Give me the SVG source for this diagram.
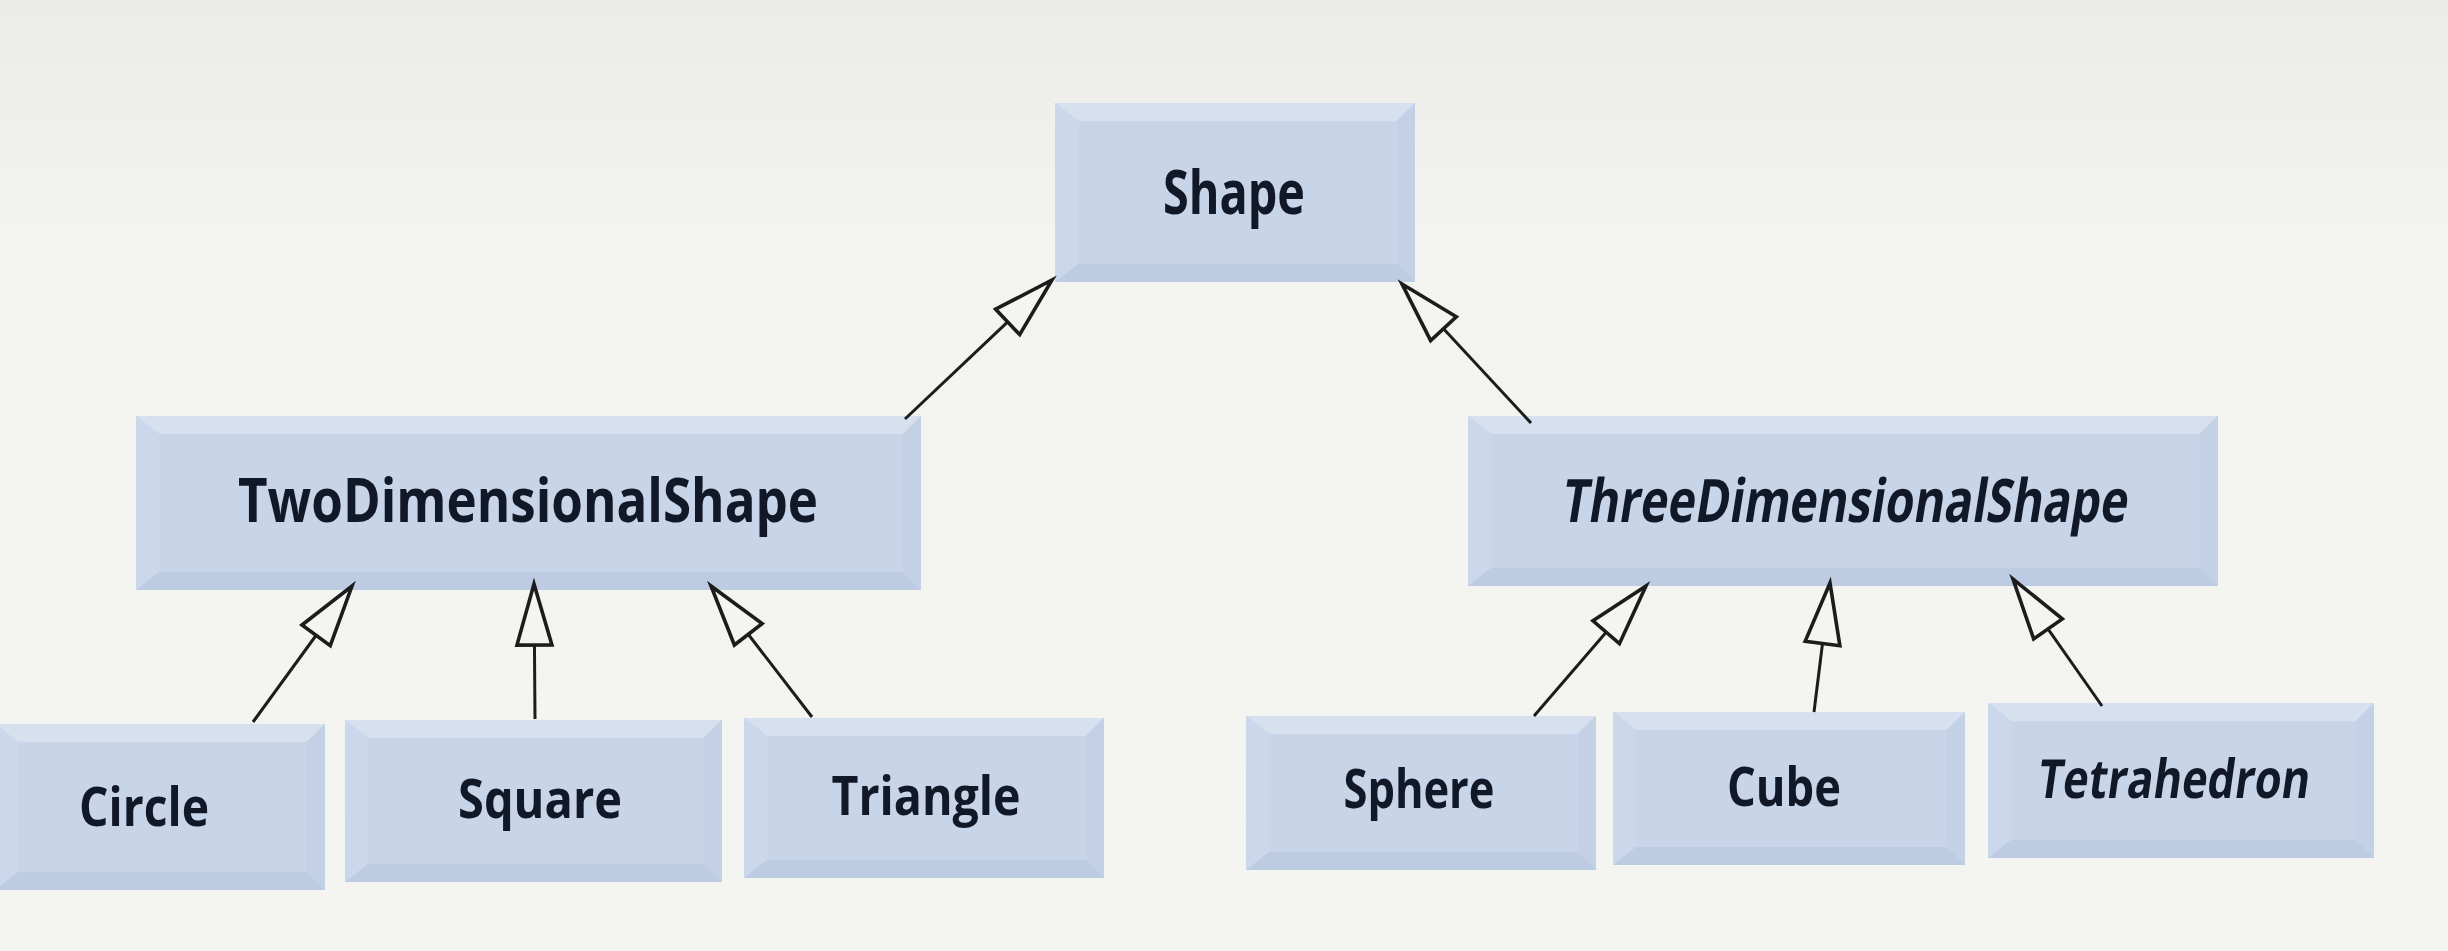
<svg xmlns="http://www.w3.org/2000/svg" width="2448" height="951" viewBox="0 0 2448 951">
  <defs>
    <linearGradient id="bg" x1="0" y1="0" x2="0" y2="1">
      <stop offset="0" stop-color="#ebebe8"/>
      <stop offset="0.25" stop-color="#f3f3f0"/>
      <stop offset="1" stop-color="#f4f4f1"/>
    </linearGradient>
    <marker id="gen" markerUnits="userSpaceOnUse" markerWidth="72" markerHeight="44" refX="64" refY="22" orient="auto" overflow="visible">
      <path d="M3,4.5 L64,22 L3,39.5 Z" fill="#f4f4f1" stroke="#1c1c1c" stroke-width="3.6" stroke-linejoin="miter"/>
    </marker>
    <style>
      .outer { fill: #bdcce3; }
      .topb { fill: #d6e0ee; }
      .leftb { fill: #cbd7ea; }
      .rightb { fill: #c3d0e6; }
      .inner { fill: #c8d5e9; }
      .lbl { font-family: "Open Sans", "Noto Sans", "Liberation Sans", sans-serif; font-weight: bold; fill: #111828; text-anchor: middle; }
      .conn { stroke: #1c1c1c; stroke-width: 3; fill: none; marker-end: url(#gen); }
    </style>
  </defs>

  <rect x="0" y="0" width="2448" height="951" fill="url(#bg)"/>

  <g id="node-shape">
    <rect class="outer" x="1055" y="103" width="360" height="179"/>
    <polygon class="topb" points="1055,103 1415,103 1397,121 1078,121"/>
    <polygon class="leftb" points="1055,103 1078,121 1078,264 1055,282"/>
    <polygon class="rightb" points="1415,103 1397,121 1397,264 1415,282"/>
    <rect class="inner" x="1078" y="121" width="319" height="143"/>
    <text class="lbl" x="1234" y="214" font-size="60" textLength="142" lengthAdjust="spacingAndGlyphs">Shape</text>
  </g>

  <g id="node-two">
    <rect class="outer" x="136" y="416" width="785" height="174"/>
    <polygon class="topb" points="136,416 921,416 903,434 159,434"/>
    <polygon class="leftb" points="136,416 159,434 159,572 136,590"/>
    <polygon class="rightb" points="921,416 903,434 903,572 921,590"/>
    <rect class="inner" x="159" y="434" width="744" height="138"/>
    <text class="lbl" x="528" y="522" font-size="60" textLength="580" lengthAdjust="spacingAndGlyphs">TwoDimensionalShape</text>
  </g>

  <g id="node-three">
    <rect class="outer" x="1468" y="416" width="750" height="170"/>
    <polygon class="topb" points="1468,416 2218,416 2200,434 1491,434"/>
    <polygon class="leftb" points="1468,416 1491,434 1491,568 1468,586"/>
    <polygon class="rightb" points="2218,416 2200,434 2200,568 2218,586"/>
    <rect class="inner" x="1491" y="434" width="709" height="134"/>
    <text class="lbl" transform="translate(1843,522) skewX(-9)" x="0" y="0" font-size="60" textLength="566" lengthAdjust="spacingAndGlyphs">ThreeDimensionalShape</text>
  </g>

  <g id="node-circle">
    <rect class="outer" x="-5" y="724" width="330" height="166"/>
    <polygon class="topb" points="-5,724 325,724 307,742 18,742"/>
    <polygon class="leftb" points="-5,724 18,742 18,872 -5,890"/>
    <polygon class="rightb" points="325,724 307,742 307,872 325,890"/>
    <rect class="inner" x="18" y="742" width="289" height="130"/>
    <text class="lbl" x="144" y="826" font-size="54" textLength="130" lengthAdjust="spacingAndGlyphs">Circle</text>
  </g>

  <g id="node-square">
    <rect class="outer" x="345" y="720" width="377" height="162"/>
    <polygon class="topb" points="345,720 722,720 704,738 368,738"/>
    <polygon class="leftb" points="345,720 368,738 368,864 345,882"/>
    <polygon class="rightb" points="722,720 704,738 704,864 722,882"/>
    <rect class="inner" x="368" y="738" width="336" height="126"/>
    <text class="lbl" x="540" y="818" font-size="54" textLength="164" lengthAdjust="spacingAndGlyphs">Square</text>
  </g>

  <g id="node-triangle">
    <rect class="outer" x="744" y="718" width="360" height="160"/>
    <polygon class="topb" points="744,718 1104,718 1086,736 767,736"/>
    <polygon class="leftb" points="744,718 767,736 767,860 744,878"/>
    <polygon class="rightb" points="1104,718 1086,736 1086,860 1104,878"/>
    <rect class="inner" x="767" y="736" width="319" height="124"/>
    <text class="lbl" x="926" y="815" font-size="54" textLength="189" lengthAdjust="spacingAndGlyphs">Triangle</text>
  </g>

  <g id="node-sphere">
    <rect class="outer" x="1246" y="716" width="350" height="154"/>
    <polygon class="topb" points="1246,716 1596,716 1578,734 1269,734"/>
    <polygon class="leftb" points="1246,716 1269,734 1269,852 1246,870"/>
    <polygon class="rightb" points="1596,716 1578,734 1578,852 1596,870"/>
    <rect class="inner" x="1269" y="734" width="309" height="118"/>
    <text class="lbl" x="1419" y="808" font-size="54" textLength="151" lengthAdjust="spacingAndGlyphs">Sphere</text>
  </g>

  <g id="node-cube">
    <rect class="outer" x="1613" y="712" width="352" height="153"/>
    <polygon class="topb" points="1613,712 1965,712 1947,730 1636,730"/>
    <polygon class="leftb" points="1613,712 1636,730 1636,847 1613,865"/>
    <polygon class="rightb" points="1965,712 1947,730 1947,847 1965,865"/>
    <rect class="inner" x="1636" y="730" width="311" height="117"/>
    <text class="lbl" x="1784" y="806" font-size="54" textLength="114" lengthAdjust="spacingAndGlyphs">Cube</text>
  </g>

  <g id="node-tetrahedron">
    <rect class="outer" x="1988" y="703" width="386" height="155"/>
    <polygon class="topb" points="1988,703 2374,703 2356,721 2011,721"/>
    <polygon class="leftb" points="1988,703 2011,721 2011,840 1988,858"/>
    <polygon class="rightb" points="2374,703 2356,721 2356,840 2374,858"/>
    <rect class="inner" x="2011" y="721" width="345" height="119"/>
    <text class="lbl" transform="translate(2172,798) skewX(-8)" x="0" y="0" font-size="54" textLength="272" lengthAdjust="spacingAndGlyphs">Tetrahedron</text>
  </g>

  <g id="connectors">
    <line class="conn" x1="905" y1="419" x2="1052" y2="280"/>
    <line class="conn" x1="1531" y1="423" x2="1402" y2="284"/>
    <line class="conn" x1="253" y1="722" x2="352" y2="586"/>
    <line class="conn" x1="535" y1="719" x2="534" y2="584"/>
    <line class="conn" x1="812" y1="717" x2="711" y2="586"/>
    <line class="conn" x1="1534" y1="716" x2="1646" y2="586"/>
    <line class="conn" x1="1814" y1="712" x2="1830" y2="583"/>
    <line class="conn" x1="2102" y1="706" x2="2013" y2="579"/>
  </g>
</svg>
